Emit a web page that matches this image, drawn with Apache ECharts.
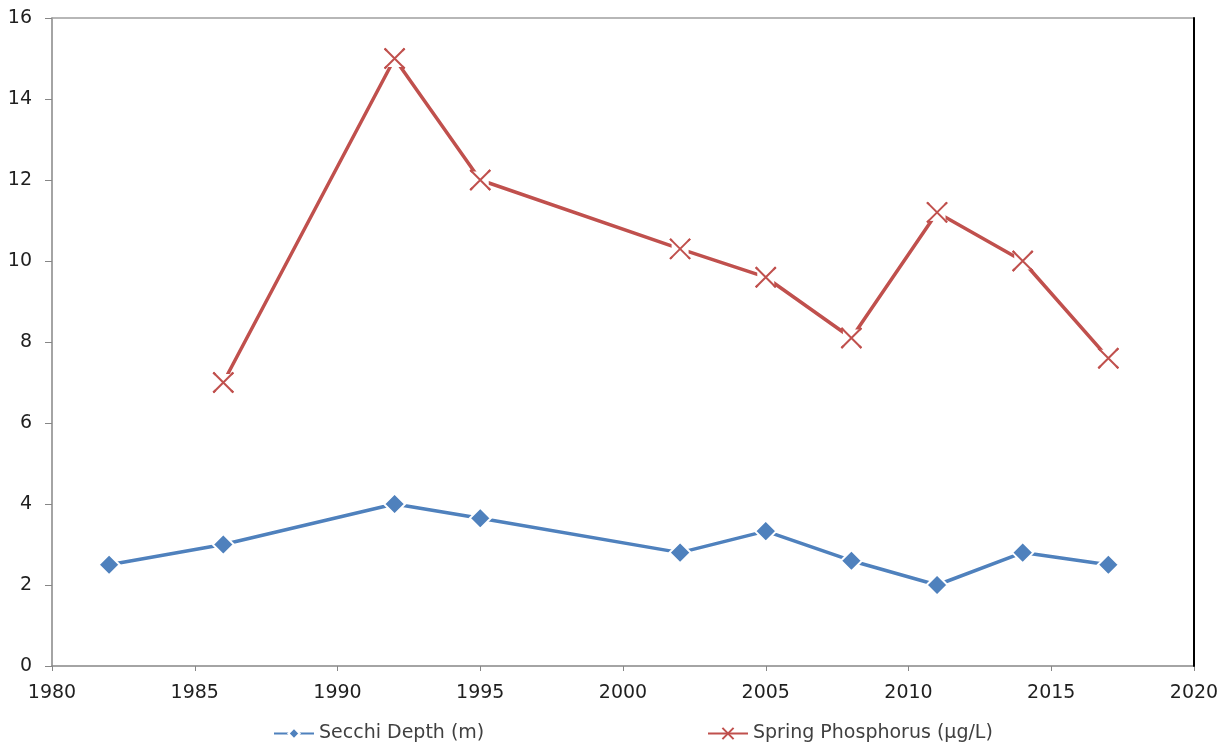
<!DOCTYPE html>
<html>
<head>
    <meta charset="utf-8">
    <title>Secchi Depth and Spring Phosphorus</title>
    <script src="https://cdn.jsdelivr.net/npm/echarts@6/dist/echarts.min.js"></script>
    <style>
        html, body { margin: 0; padding: 0; background: #fff; }
    </style>
</head>
<body>
<div id="main" style="width: 1230px;height:747px;"></div>
<script type="text/javascript">
    // data
    var secchiYears = [1982, 1986, 1992, 1995, 2002, 2005, 2008, 2011, 2014, 2017];
    var secchiDepth = [2.5, 3.0, 4.0, 3.65, 2.8, 3.33, 2.6, 2.0, 2.8, 2.5];
    var phosYears = [1986, 1992, 1995, 2002, 2005, 2008, 2011, 2014, 2017];
    var springPhos = [7.0, 15.0, 12.0, 10.3, 9.6, 8.1, 11.2, 10.0, 7.6];

    var seriesNames = ['Secchi Depth (m)', 'Spring Phosphorus (µg/L)'];
    var fontName = 'DejaVu Sans';
    var crossSymbol = 'path://M0,0 L10,10 M10,0 L0,10';

    function pairs(xs, ys) {
        return xs.map(function (x, i) { return [x, ys[i]]; });
    }

    var legendText = { fontSize: 19, color: '#404040', fontFamily: fontName };

    var myChart = echarts.init(document.getElementById('main'));
    myChart.setOption({
        animation: false,
        textStyle: { fontFamily: fontName },
        grid: { left: 52, right: 36, top: 18, bottom: 81 },
        legend: [{
            top: 719,
            left: 268,
            itemWidth: 40,
            itemHeight: 14,
            textStyle: legendText,
            data: [seriesNames[0]]
        }, {
            top: 719,
            left: 702,
            itemWidth: 40,
            itemHeight: 14,
            textStyle: legendText,
            data: [seriesNames[1]]
        }],
        xAxis: [{
            type: 'value',
            min: 1980,
            max: 2020,
            interval: 5,
            axisLine: { lineStyle: { color: '#868686', width: 1.5 } },
            axisTick: { show: true, length: 5, lineStyle: { color: '#868686' } },
            axisLabel: { fontSize: 19, color: '#1f1f1f', margin: 18, formatter: function (v) { return String(v); } },
            splitLine: { show: false }
        }, {
            type: 'value',
            position: 'top',
            min: 1980,
            max: 2020,
            axisLine: { show: true, onZero: false, lineStyle: { color: '#a0a0a0', width: 1.5 } },
            axisTick: { show: false },
            axisLabel: { show: false },
            splitLine: { show: false }
        }],
        yAxis: [{
            type: 'value',
            min: 0,
            max: 16,
            interval: 2,
            axisLine: { show: true, lineStyle: { color: '#868686', width: 1.5 } },
            axisTick: { show: true, length: 7, lineStyle: { color: '#868686' } },
            axisLabel: { fontSize: 19, color: '#1f1f1f', margin: 20 },
            splitLine: { show: false }
        }, {
            type: 'value',
            position: 'right',
            min: 0,
            max: 16,
            axisLine: { show: true, onZero: false, lineStyle: { color: '#000', width: 2 } },
            axisTick: { show: false },
            axisLabel: { show: false },
            splitLine: { show: false },
            z: 5
        }],
        series: [{
            name: seriesNames[0],
            type: 'line',
            data: pairs(secchiYears, secchiDepth),
            symbol: 'diamond',
            symbolSize: 21,
            lineStyle: { color: '#4F81BD', width: 3.5 },
            itemStyle: { color: '#4F81BD', borderColor: '#fff', borderWidth: 2 },
            z: 3
        }, {
            name: seriesNames[1],
            type: 'line',
            data: pairs(phosYears, springPhos),
            symbol: crossSymbol,
            symbolSize: 20,
            lineStyle: { color: '#C0504D', width: 3.5 },
            itemStyle: { color: 'none', borderColor: '#C0504D', borderWidth: 2 },
            z: 3
        }, {
            // white gap where the red line meets its markers
            name: 'phosGap',
            type: 'scatter',
            data: pairs(phosYears, springPhos),
            symbol: 'rect',
            symbolSize: 17,
            itemStyle: { color: '#fff', opacity: 1 },
            silent: true,
            z: 4
        }, {
            name: 'phosMarks',
            type: 'scatter',
            data: pairs(phosYears, springPhos),
            symbol: crossSymbol,
            symbolSize: 20,
            itemStyle: { color: 'none', borderColor: '#C0504D', borderWidth: 2, opacity: 1 },
            silent: true,
            z: 5
        }]
    });
</script>
</body>
</html>
